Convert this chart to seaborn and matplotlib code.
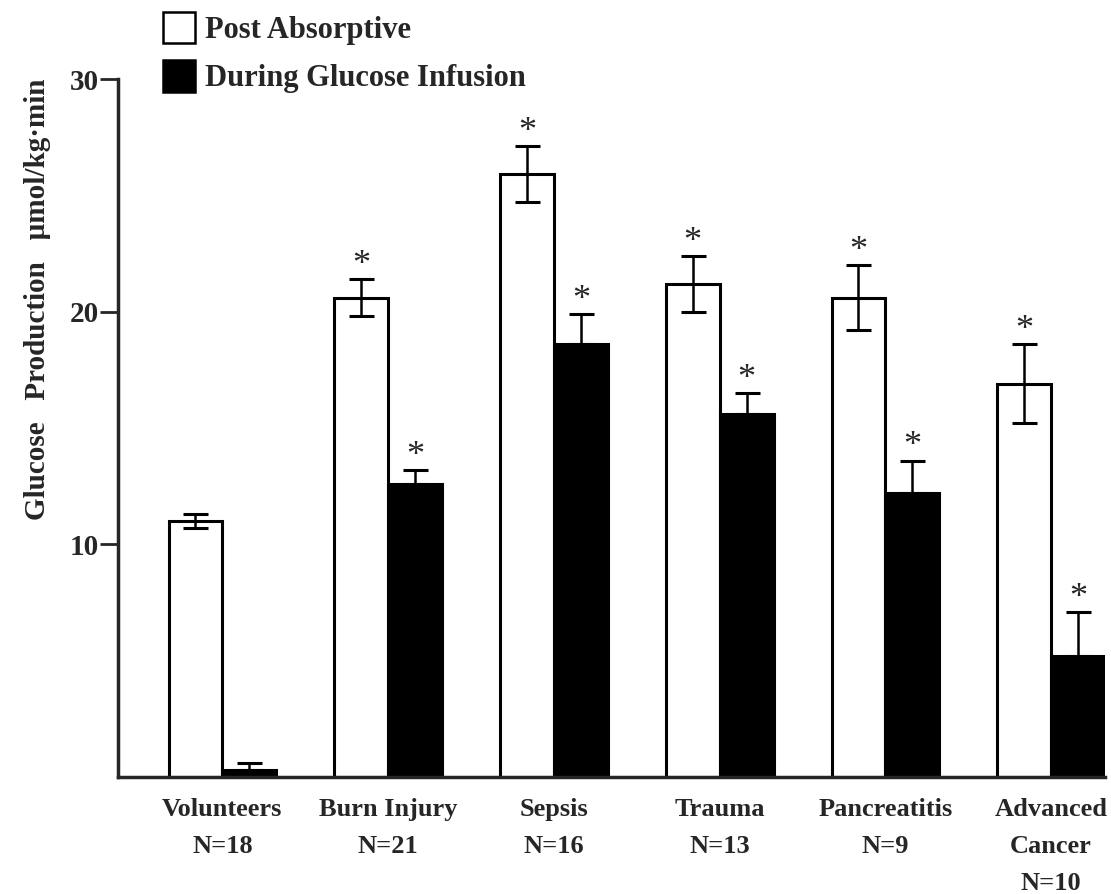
import numpy as np
import pandas as pd
import matplotlib
matplotlib.use("Agg")
import matplotlib.pyplot as plt
from matplotlib.patches import Patch
import seaborn as sns

# Glucose production by patient group (µmol/kg·min, mean ± SEM)
groups = ["Volunteers\nN=18", "Burn Injury\nN=21", "Sepsis\nN=16",
          "Trauma\nN=13", "Pancreatitis\nN=9", "Advanced\nCancer\nN=10"]
conditions = ["Post Absorptive", "During Glucose Infusion"]
post_absorptive = [11.0, 20.6, 25.9, 21.2, 20.6, 16.9]
post_absorptive_sem = [0.3, 0.8, 1.2, 1.2, 1.4, 1.7]
glucose_infusion = [0.3, 12.6, 18.6, 15.6, 12.2, 5.2]
glucose_infusion_sem = [0.3, 0.6, 1.3, 0.9, 1.4, 1.9]
post_absorptive_sig = [False, True, True, True, True, True]
glucose_infusion_sig = [False, True, True, True, True, True]

df = pd.DataFrame({
    "group": groups * 2,
    "condition": [conditions[0]] * len(groups) + [conditions[1]] * len(groups),
    "value": post_absorptive + glucose_infusion,
})

sns.set_style("ticks")
plt.rcParams["font.family"] = ["Liberation Serif", "DejaVu Serif"]
plt.rcParams["font.weight"] = "bold"

fig = plt.figure(figsize=(11.11, 8.94), dpi=100)
ax = fig.add_axes([118 / 1111, 1 - 777 / 894, (1105 - 118) / 1111, 698 / 894])

palette = {conditions[0]: "white", conditions[1]: "black"}
sns.barplot(data=df, x="group", y="value", hue="condition", order=groups,
            hue_order=conditions, palette=palette, width=0.65, errorbar=None,
            edgecolor="black", linewidth=2.2, saturation=1, legend=False, ax=ax)

# Error bars: two-sided for post absorptive, upper only during infusion
for cont, sems, sigs, two_sided in zip(
        ax.containers,
        [post_absorptive_sem, glucose_infusion_sem],
        [post_absorptive_sig, glucose_infusion_sig],
        [True, False]):
    for bar, sem, sig in zip(cont, sems, sigs):
        xc = bar.get_x() + bar.get_width() / 2
        h = bar.get_height()
        yerr = [[sem if two_sided else 0], [sem]]
        ax.errorbar(xc, h, yerr=yerr, fmt="none", ecolor="black",
                    elinewidth=1.8, capsize=9, capthick=2.2, zorder=3)
        if sig:
            ax.annotate("*", xy=(xc, h + sem), xytext=(0, -2),
                        textcoords="offset points", ha="center", va="bottom",
                        fontsize=26, fontweight="normal")

ax.set_ylim(0, 30)
ax.set_xlim(-0.63, 5 + 0.325)
ax.set_yticks([10, 20, 30])
ax.set_yticklabels(["10", "20", "30"])
ax.tick_params(axis="y", length=13, width=2, pad=1, labelsize=21)
ax.tick_params(axis="x", length=0, pad=15, labelsize=19)
for lab in ax.get_xticklabels():
    lab.set_linespacing(1.78)
    lab.set_fontweight("bold")
for lab in ax.get_yticklabels():
    lab.set_fontweight("bold")

ax.set_xlabel("")
ax.set_ylabel("Glucose   Production   µmol/kg·min", fontsize=21,
              fontweight="bold")
ax.yaxis.set_label_coords(-0.068, 0.685)

sns.despine(ax=ax)
ax.spines["left"].set_linewidth(2.5)
ax.spines["bottom"].set_linewidth(2.5)

handles = [Patch(facecolor="white", edgecolor="black", linewidth=1.8),
           Patch(facecolor="black", edgecolor="black", linewidth=1.8)]
fig.legend(handles, conditions, loc="upper left",
           bbox_to_anchor=(163 / 1111, 1 - 12 / 894),
           bbox_transform=fig.transFigure, frameon=False, fontsize=22,
           handlelength=1.05, handleheight=1.2, handletextpad=0.33,
           labelspacing=0.5, borderpad=0, borderaxespad=0)

fig.savefig("out.png", dpi=100)
